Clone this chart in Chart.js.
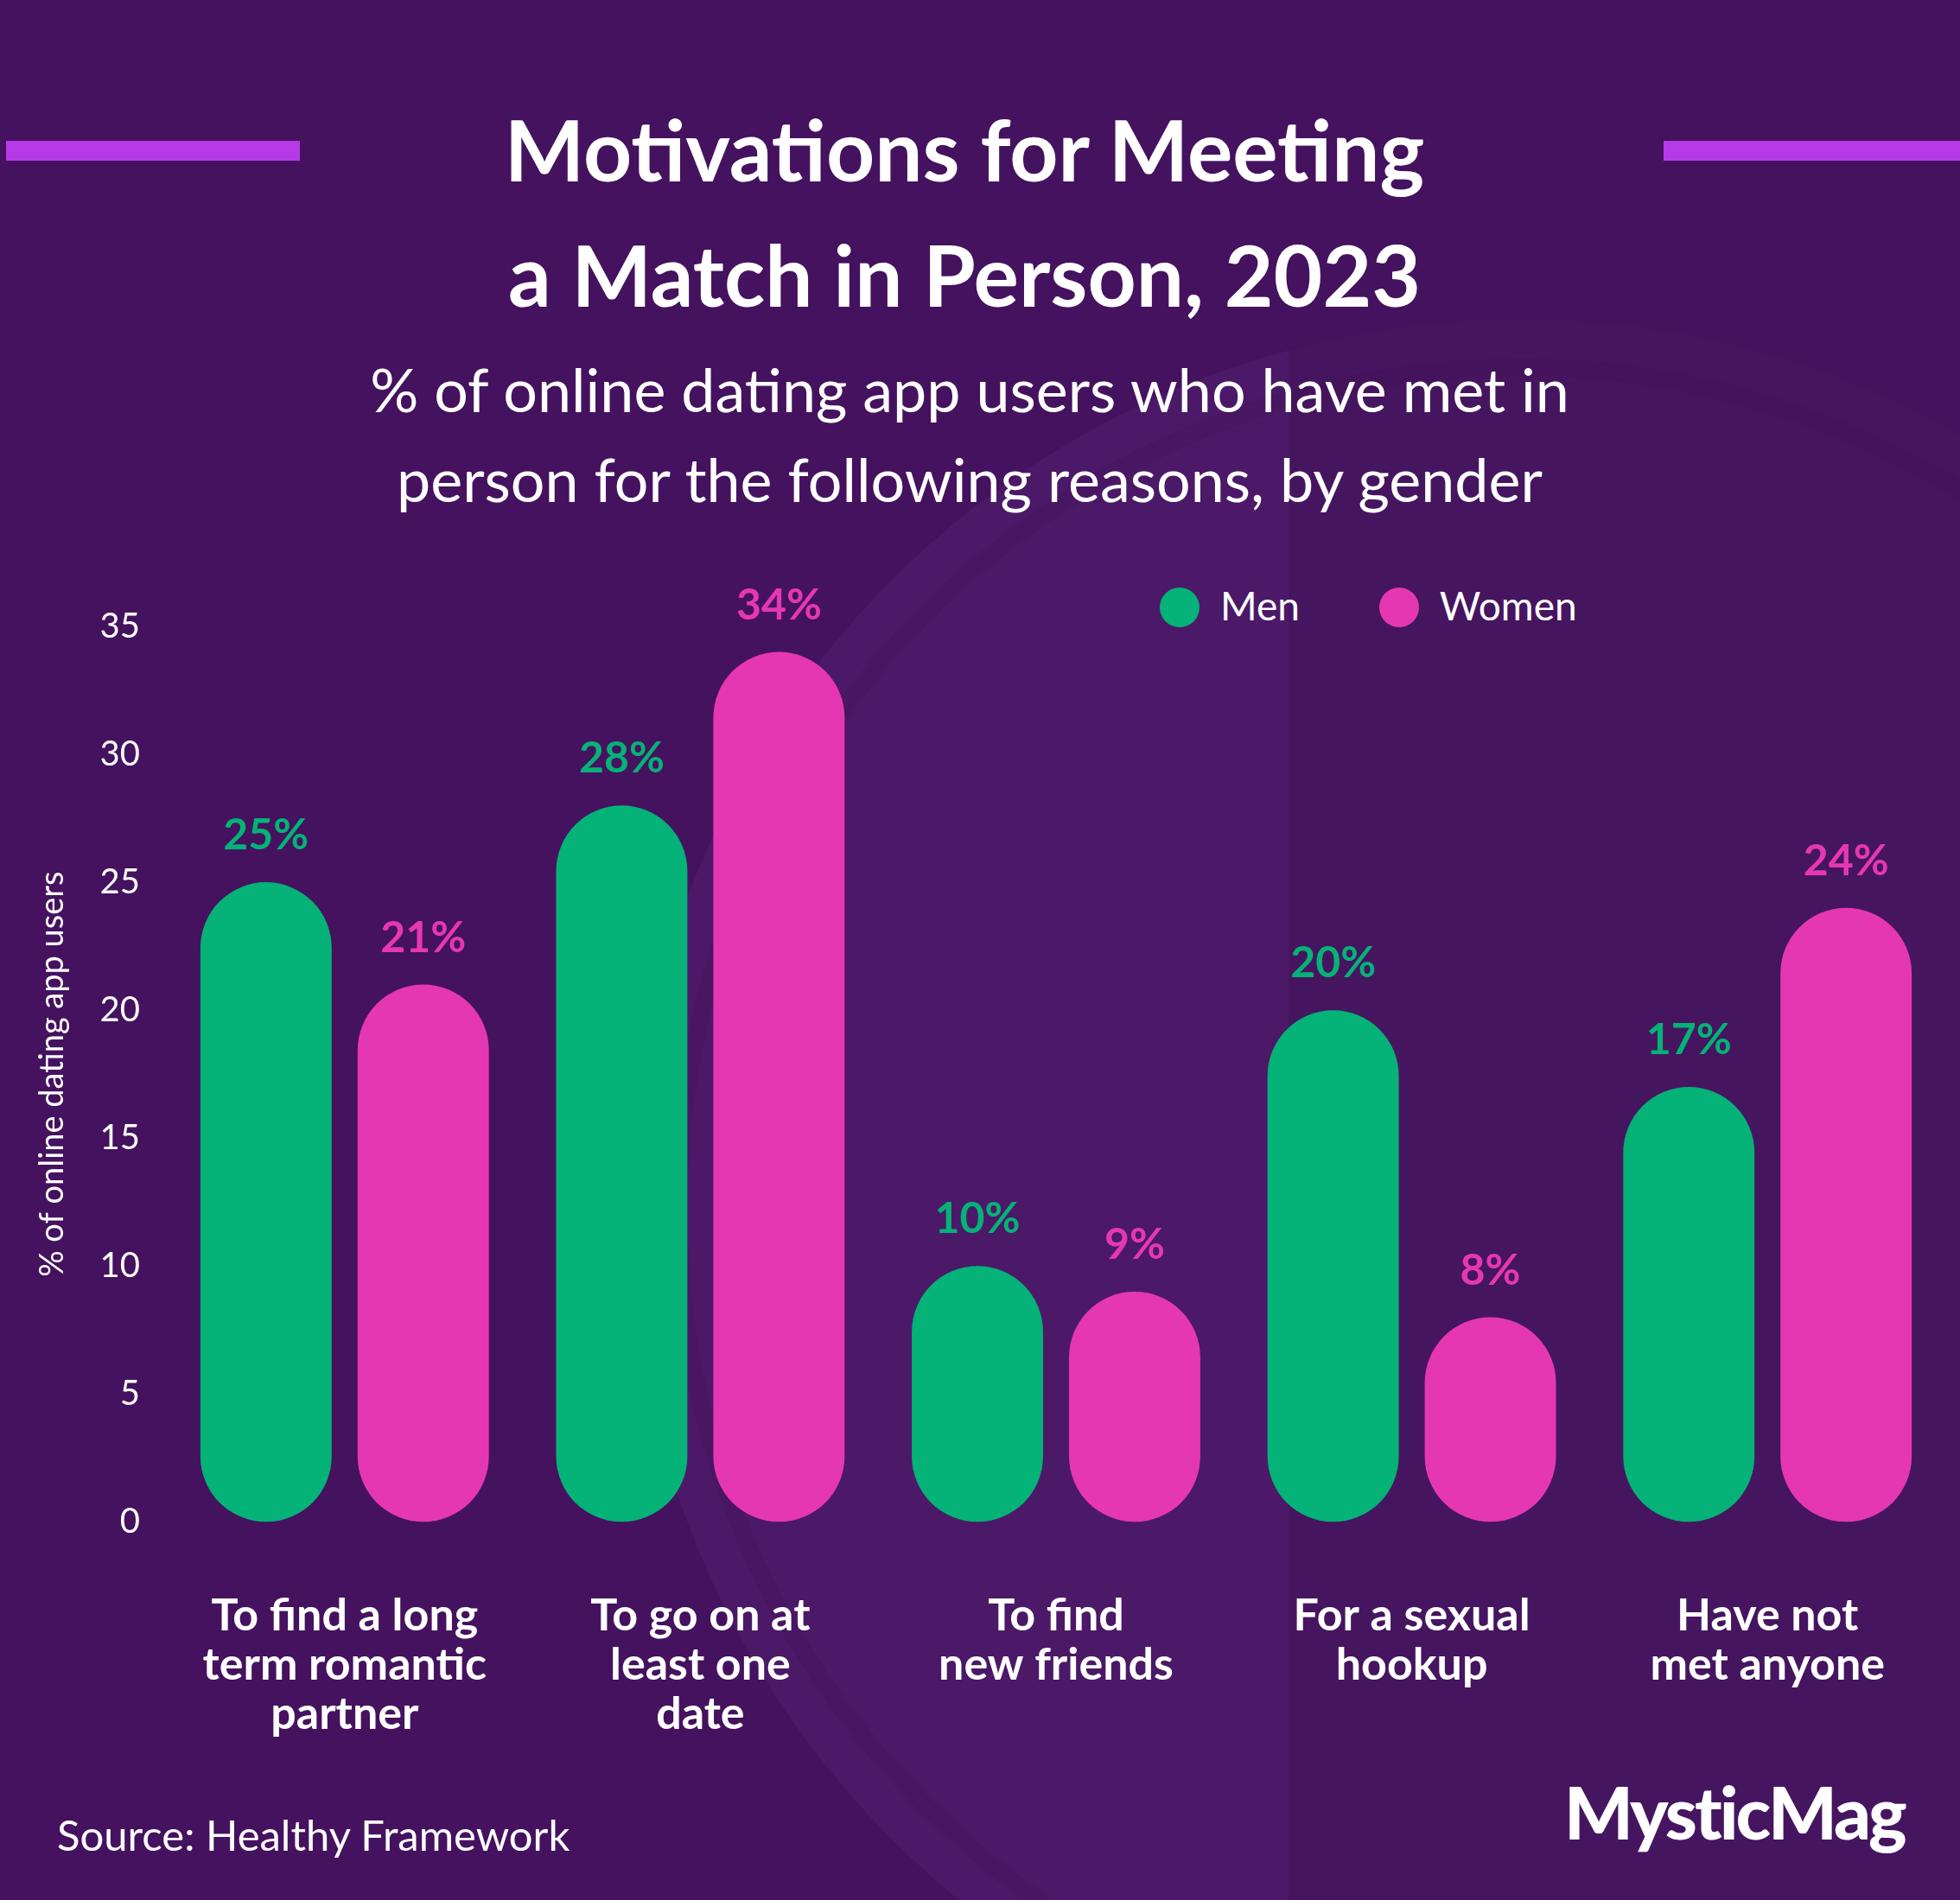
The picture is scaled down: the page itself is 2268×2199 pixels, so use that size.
<!DOCTYPE html>
<html>
<head>
<meta charset="utf-8">
<script src="https://cdn.jsdelivr.net/npm/chart.js@4.4.0/dist/chart.umd.min.js"></script>
<style>
  body { margin: 0; background: #45125f; font-family: Lato, "Open Sans", sans-serif; }
  .page { position: relative; width: 2268px; height: 2199px; overflow: hidden; background: #45125f; }
  .circle { position: absolute; left: 730px; top: 370px; width: 2060px; height: 2060px; border-radius: 50%;
            background: linear-gradient(90deg, #4b1967 0px, #4b1967 760px, #461560 762px, #461560 100%); }
  .ring { position: absolute; left: 775px; top: 415px; width: 1970px; height: 1970px; border-radius: 50%;
          border: 20px solid rgba(60, 10, 80, 0.18); box-sizing: border-box; }
  .bar-accent { position: absolute; height: 23px; background: #b73ae8; top: 163px; }
  .title { position: absolute; left: -18px; width: 2268px; top: 100px; text-align: center; color: #fff;
           font-weight: 700; font-size: 98px; line-height: 145px; }
  .subtitle { position: absolute; left: -12px; width: 2268px; top: 398px; text-align: center; color: #fff;
              font-size: 70px; line-height: 104px; }
  .legend { position: absolute; top: 672px; left: 1342px; color: #fff; font-size: 46px; line-height: 58px; }
  .legend span.item { display: inline-block; margin-right: 80px; }
  .legend i { display: inline-block; width: 46px; height: 46px; border-radius: 50%; vertical-align: -8px; margin-right: 24px; }
  .source { position: absolute; left: 66px; top: 2094px; color: #fff; font-size: 49px; }
  .logo { position: absolute; left: 1810px; top: 2046px; color: #fff; font-size: 84px; font-weight: 900; letter-spacing: -3px; }
  #chartBox { position: absolute; left: 0; top: 0; width: 2268px; height: 2199px; }
</style>
</head>
<body>
<div class="page">
  <div class="circle"></div>
  <div class="ring"></div>
  <div class="bar-accent" style="left:7px; width:340px;"></div>
  <div class="bar-accent" style="left:1925px; width:343px;"></div>
  <div class="title">Motivations for Meeting<br>a Match in Person, 2023</div>
  <div class="subtitle">% of online dating app users who have met in<br>person for the following reasons, by gender</div>
  <div class="legend">
    <span class="item"><i style="background:#05b277"></i>Men</span>
    <span class="item"><i style="background:#e637b3"></i>Women</span>
  </div>
  <div class="source">Source: Healthy Framework</div>
  <div class="logo">MysticMag</div>
  <div id="chartBox"><canvas id="motivesChart"></canvas></div>
</div>

<script>
// data
const categories = [
  ['To find a long', 'term romantic', 'partner'],
  ['To go on at', 'least one', 'date'],
  ['To find', 'new friends'],
  ['For a sexual', 'hookup'],
  ['Have not', 'met anyone']
];
const seriesNames = ['Men', 'Women'];
const menValues = [25, 28, 10, 20, 17];
const womenValues = [21, 34, 9, 8, 24];
const yMax = 35;
const yStep = 5;

const green = '#05b277';
const pink = '#e637b3';

// percent labels above each pill
const valueLabels = {
  id: 'valueLabels',
  afterDatasetsDraw(chart) {
    const ctx = chart.ctx;
    ctx.save();
    ctx.font = 'bold 50px Lato';
    ctx.textAlign = 'center';
    ctx.textBaseline = 'middle';
    chart.data.datasets.forEach((ds, i) => {
      const meta = chart.getDatasetMeta(i);
      ctx.fillStyle = ds.backgroundColor;
      meta.data.forEach((bar, j) => {
        ctx.fillText(ds.data[j] + '%', bar.x, bar.y - 54);
      });
    });
    ctx.restore();
  }
};

new Chart(document.getElementById('motivesChart'), {
  type: 'bar',
  data: {
    labels: categories,
    datasets: [
      { label: seriesNames[0], data: menValues, backgroundColor: green },
      { label: seriesNames[1], data: womenValues, backgroundColor: pink }
    ]
  },
  options: {
    responsive: true,
    maintainAspectRatio: false,
    animation: false,
    layout: { padding: { top: 725, left: 38, right: 17, bottom: 106 } },
    datasets: {
      bar: {
        categoryPercentage: 0.884,
        barPercentage: 0.835,
        borderRadius: 200,
        borderSkipped: false
      }
    },
    plugins: {
      legend: { display: false },
      tooltip: { enabled: false }
    },
    scales: {
      x: {
        grid: { display: false, drawTicks: false },
        border: { display: false },
        ticks: {
          color: '#ffffff',
          padding: 80,
          maxRotation: 0,
          autoSkip: false,
          font: { family: 'Lato', size: 52, weight: 'bold', lineHeight: 1.1 }
        }
      },
      y: {
        min: 0,
        max: yMax,
        grid: { display: false, drawTicks: false },
        border: { display: false },
        ticks: {
          stepSize: yStep,
          color: '#ffffff',
          padding: 31,
          font: { family: 'Lato', size: 40 }
        },
        title: {
          display: true,
          text: '% of online dating app users',
          color: '#ffffff',
          padding: { top: 0, bottom: 1 },
          font: { family: 'Lato', size: 38 }
        }
      }
    }
  },
  plugins: [valueLabels]
});
</script>
</body>
</html>
